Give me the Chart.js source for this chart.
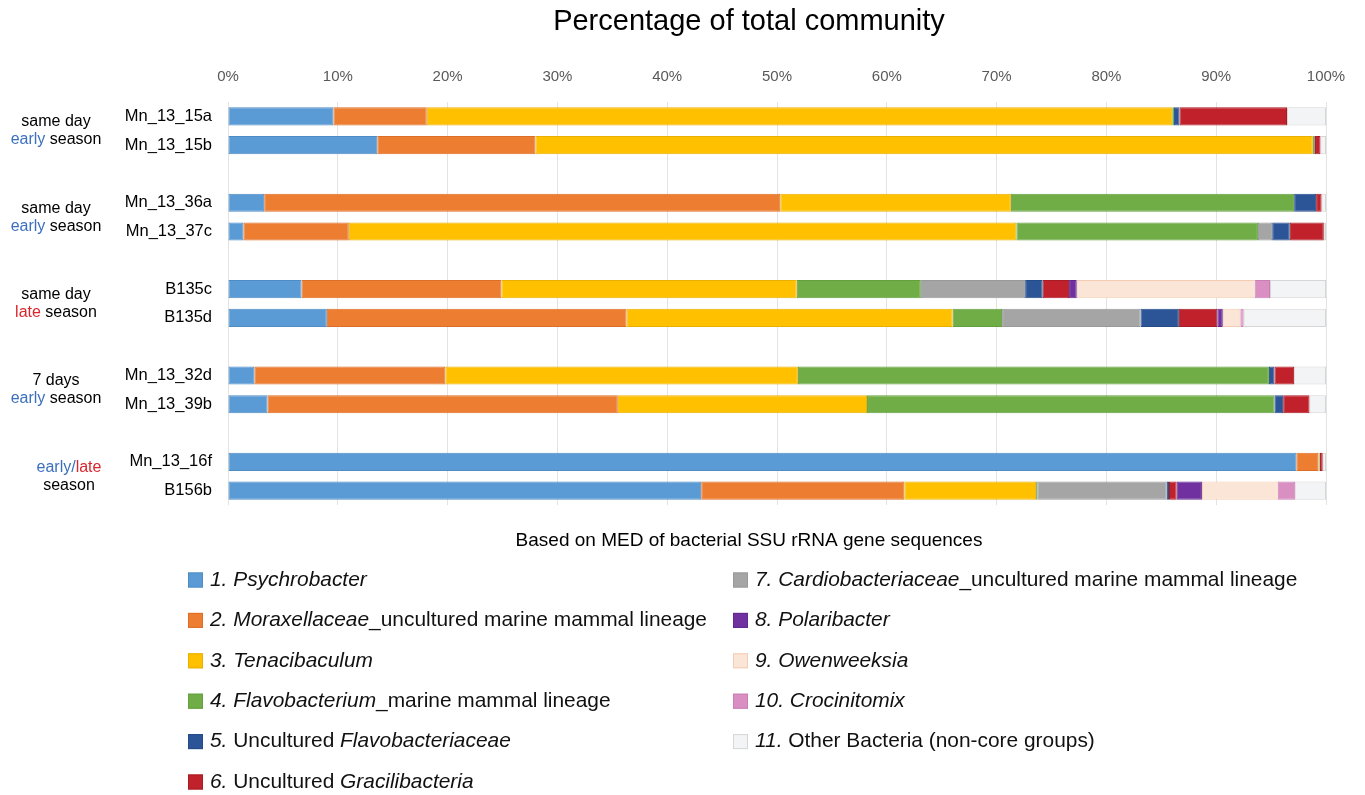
<!DOCTYPE html>
<html><head><meta charset="utf-8">
<script src="https://cdn.jsdelivr.net/npm/chart.js@4.4.1/dist/chart.umd.min.js"></script>
<style>html,body{margin:0;padding:0;background:#fff;}#wrap{width:1365px;height:795px;position:relative;}</style>
</head><body><div id="wrap"><canvas id="c"></canvas></div>
<script>
// ---------- DATA ----------
const samples = ['Mn_13_15a','Mn_13_15b','Mn_13_36a','Mn_13_37c','B135c','B135d','Mn_13_32d','Mn_13_39b','Mn_13_16f','B156b'];
const psychrobacter      = [9.6, 13.6, 3.3, 1.4, 6.7, 9.0, 2.4, 3.6, 97.3, 43.1];
const moraxellaceae      = [8.5, 14.4, 47.0, 9.6, 18.2, 27.3, 17.4, 31.9, 2.0, 18.5];
const tenacibaculum      = [67.9, 70.8, 21.0, 60.8, 26.9, 29.7, 32.1, 22.7, 0.1, 12.0];
const flavobacterium     = [0.15, 0.1, 25.8, 22.0, 11.3, 4.5, 42.9, 37.1, 0, 0.1];
const uncultFlavobact    = [0.5, 0, 2.0, 1.6, 1.6, 3.5, 0.5, 0.8, 0.05, 0.2];
const gracilibacteria    = [9.8, 0.5, 0.5, 3.1, 2.4, 3.5, 1.8, 2.4, 0.25, 0.7];
const cardiobacteriaceae = [0, 0.1, 0, 1.3, 9.5, 12.6, 0, 0, 0, 11.8];
const polaribacter       = [0, 0, 0, 0, 0.7, 0.5, 0, 0, 0, 2.3];
const owenweeksia        = [0, 0, 0, 0, 16.2, 1.6, 0, 0, 0, 6.9];
const crocinitomix       = [0, 0, 0, 0, 1.4, 0.3, 0, 0, 0, 1.6];
const otherBacteria      = [3.55, 0.5, 0.4, 0.2, 5.1, 7.5, 2.9, 1.5, 0.3, 2.8];

const xTicks = [0,10,20,30,40,50,60,70,80,90,100];
const titleText = 'Percentage of total community';
const subtitleText = 'Based on MED of bacterial SSU rRNA gene sequences';

// legend entries: runs of [text, italic]
const legendRuns = [
  [['1. Psychrobacter', true]],
  [['2. Moraxellaceae', true], ['_uncultured marine mammal lineage', false]],
  [['3. Tenacibaculum', true]],
  [['4. Flavobacterium', true], ['_marine mammal lineage', false]],
  [['5. ', true], ['Uncultured ', false], ['Flavobacteriaceae', true]],
  [['6. ', true], ['Uncultured ', false], ['Gracilibacteria', true]],
  [['7. Cardiobacteriaceae', true], ['_uncultured marine mammal lineage', false]],
  [['8. Polaribacter', true]],
  [['9. Owenweeksia', true]],
  [['10. Crocinitomix', true]],
  [['11. ', true], ['Other Bacteria (non-core groups)', false]]
];
const BLUE = '#3B6FBF', RED = '#D8262E', BLK = '#000';
const groupLines = [
  [[['same day', BLK]], [['early', BLUE], [' season', BLK]]],
  [[['same day', BLK]], [['early', BLUE], [' season', BLK]]],
  [[['same day', BLK]], [['late', RED], [' season', BLK]]],
  [[['7 days', BLK]], [['early', BLUE], [' season', BLK]]],
  [[['early', BLUE], ['/', BLUE], ['late', RED]], [['season', BLK]]]
];

// ---------- STYLE ----------
const seriesValues = [psychrobacter, moraxellaceae, tenacibaculum, flavobacterium, uncultFlavobact,
  gracilibacteria, cardiobacteriaceae, polaribacter, owenweeksia, crocinitomix, otherBacteria];
const fills   = ['#5B9BD5','#ED7D31','#FFC000','#70AD47','#2B5597','#C0212B','#A5A5A5','#7030A0','#FBE5D6','#D98FC2','#F3F4F6'];
const borders = ['#4F8BC4','#DB6F27','#EAB000','#64A03E','#254C88','#A91C25','#999999','#602890','#F3CDB3','#C97FB2','#D6D6D6'];
const stackOrder = [0,1,2,3,6,4,5,7,8,9,10];
const FONT = '"Liberation Sans", Arial, Helvetica, sans-serif';

function withGaps(arr){ const out=[]; arr.forEach((v,i)=>{ out.push(v); if(i%2===1 && i<arr.length-1) out.push(null); }); return out; }
const labels = withGaps(samples).map(v => v === null ? '' : v);

const datasets = stackOrder.map(si => ({
  label: legendRuns[si].map(r=>r[0]).join(''),
  data: withGaps(seriesValues[si]),
  backgroundColor: fills[si],
  borderColor: borders[si],
  borderWidth: 1,
  borderSkipped: false,
  categoryPercentage: 1,
  barPercentage: 0.63
}));

function drawRuns(ctx, runs, x, y, align, size){
  let w = 0;
  runs.forEach(r => { ctx.font = (r[2] ? 'italic ' : '') + size + 'px ' + FONT; w += ctx.measureText(r[0]).width; });
  let cx = align === 'center' ? x - w/2 : (align === 'right' ? x - w : x);
  runs.forEach(r => {
    ctx.font = (r[2] ? 'italic ' : '') + size + 'px ' + FONT;
    ctx.fillStyle = r[1];
    ctx.textAlign = 'left';
    ctx.fillText(r[0], cx, y);
    cx += ctx.measureText(r[0]).width;
  });
}

const textPlugin = {
  id: 'texts',
  afterDraw(chart){
    const ctx = chart.ctx, ys = chart.scales.y;
    ctx.save();
    ctx.textBaseline = 'middle';
    // title
    ctx.fillStyle = '#000'; ctx.textAlign = 'center';
    ctx.font = '29px ' + FONT;
    ctx.fillText(titleText, 749, 22);
    // group labels
    const groupX = [56, 56, 56, 56, 69];
    groupLines.forEach((lines, g) => {
      const yc = (ys.getPixelForValue(g*3) + ys.getPixelForValue(g*3+1)) / 2;
      lines.forEach((runs, li) => {
        drawRuns(ctx, runs.map(r => [r[0], r[1], false]), groupX[g], yc + (li === 0 ? -9 : 9), 'center', 16);
      });
    });
    // subtitle
    ctx.fillStyle = '#000'; ctx.textAlign = 'center';
    ctx.font = '19px ' + FONT;
    ctx.fillText(subtitleText, 749, 541);
    // legend
    legendRuns.forEach((runs, i) => {
      const col = i < 6 ? 0 : 1;
      const row = i < 6 ? i : i - 6;
      const sx = col === 0 ? 188 : 733;
      const yc = 580 + row * 40.4;
      ctx.fillStyle = fills[i]; ctx.strokeStyle = borders[i]; ctx.lineWidth = 1;
      ctx.fillRect(sx, yc - 7.5, 15, 15);
      ctx.strokeRect(sx + 0.5, yc - 7, 14, 14);
      drawRuns(ctx, runs.map(r => ['' + r[0], '#111', r[1]]), sx + 22, yc, 'left', 20.9);
    });
    ctx.restore();
  }
};

new Chart(document.getElementById('c'), {
  type: 'bar',
  data: { labels, datasets },
  options: {
    indexAxis: 'y',
    responsive: true,
    maintainAspectRatio: false,
    animation: false,
    layout: { padding: { top: 52, right: 39, bottom: 290, left: 0 } },
    plugins: { legend: { display: false }, title: { display: false }, tooltip: { enabled: false } },
    scales: {
      x: {
        stacked: true, position: 'top', min: 0, max: 100,
        afterBuildTicks: s => { s.ticks = xTicks.map(v => ({ value: v })); },
        ticks: { callback: v => v + '%', font: { family: FONT, size: 15 }, color: '#595959', padding: 16 },
        grid: { color: '#E3E3E3', lineWidth: 1, drawTicks: false },
        border: { display: false }
      },
      y: {
        stacked: true,
        afterFit: s => { s.width = 228; },
        ticks: { font: { family: FONT, size: 16.5 }, color: '#000', padding: 16, autoSkip: false },
        grid: { display: false, drawTicks: false },
        border: { display: false }
      }
    }
  },
  plugins: [textPlugin]
});
</script></body></html>
